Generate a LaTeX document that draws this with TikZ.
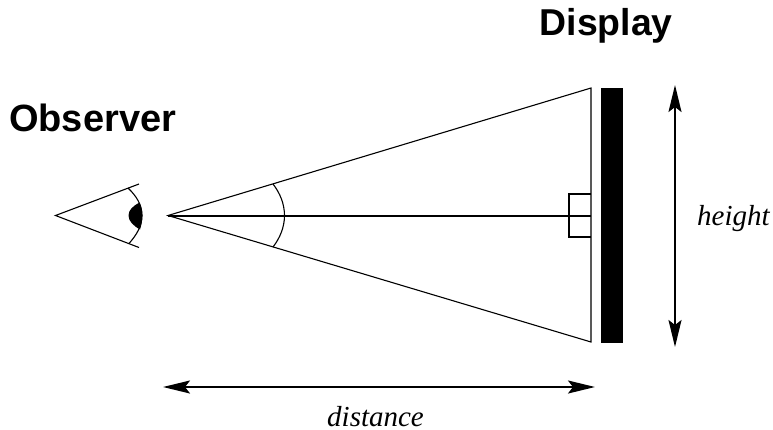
\documentclass[tikz,border=0pt]{standalone}
\usepackage{fontspec}
\setmainfont{Liberation Serif}
\setsansfont{Liberation Sans}
\usetikzlibrary{arrows.meta}
\tikzset{
  x=1pt,y=-1pt,
  thin line/.style={line width=1.1pt,black},
  axis line/.style={line width=2pt,black},
  dim arrow/.style={line width=2pt,black,{Stealth[length=27pt,width=13pt,inset=5pt]}-{Stealth[length=27pt,width=13pt,inset=5pt]}},
  title label/.style={font=\sffamily\bfseries\fontsize{38}{38}\selectfont,inner sep=0pt},
  dim label/.style={font=\itshape\fontsize{29}{29}\selectfont,inner sep=0pt}
}
\begin{document}
\begin{tikzpicture}
\useasboundingbox (0,0) rectangle (773,429);
% eye
\coordinate (eye) at (55.5,215.5);
\coordinate (eyeT) at (139,184);
\coordinate (eyeB) at (139,247.5);
\draw[thin line] (eyeT) -- (eye) -- (eyeB);
\draw[thin line] (128,188) .. controls (136.5,196) and (142,205) .. (142,215.5) .. controls (142,226) and (136.5,235) .. (129,243.5);
\fill[black] (139.5,202.5) .. controls (133,206) and (128.5,210) .. (128.5,215.5) .. controls (128.5,221) and (133,225.5) .. (140,229.5) .. controls (141.5,225) and (142.3,220) .. (142.3,215.5) .. controls (142.3,211) and (141.5,207) .. (139.5,202.5) -- cycle;
% view triangle
\coordinate (apex) at (168,215.5);
\coordinate (top) at (591,88);
\coordinate (bot) at (591,342);
\coordinate (mid) at (591,215.5);
\draw[thin line,line join=miter] (apex) -- (top) -- (bot) -- cycle;
\draw[axis line] (apex) -- (mid);
\draw[thin line] (273,184) .. controls (280,193) and (284.5,204) .. (284.5,215.5) .. controls (284.5,227) and (280,238) .. (273,247);
\draw[thin line] (591,194) -- (569,194) -- (569,237) -- (591,237);
% display
\fill[black] (601,88) rectangle (623,343);
% dimensions
\coordinate (hT) at (675,85);
\coordinate (hB) at (675,347);
\draw[dim arrow] (hT) -- (hB);
\coordinate (dL) at (163,387);
\coordinate (dR) at (595,387);
\draw[dim arrow] (dL) -- (dR);
% labels
\node[title label,anchor=base west] (obs) at (9,131) {Observer};
\node[title label,anchor=base west,font=\sffamily\bfseries\fontsize{37.4}{38}\selectfont] (disp) at (539.5,35) {Display};
\node[dim label,anchor=base west] (hlabel) at (697,225) {height};
\node[dim label,anchor=base west] (dlabel) at (327,426.5) {distance};
\end{tikzpicture}
\end{document}
